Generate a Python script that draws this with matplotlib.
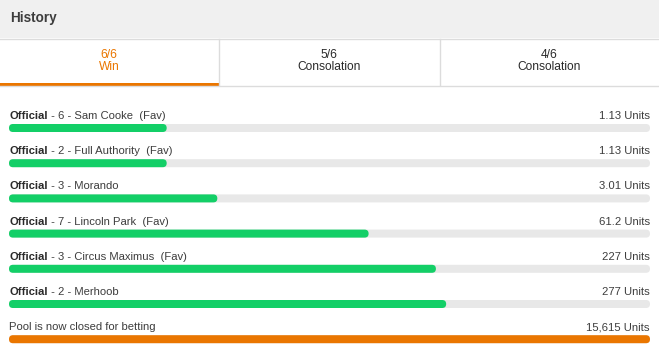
import matplotlib
matplotlib.use("Agg")
import matplotlib.pyplot as plt
from matplotlib.patches import FancyBboxPatch, Rectangle

plt.rcParams['font.family'] = ['Liberation Sans', 'DejaVu Sans']

# ---- data ----
title = "History"
tab_top = ["6/6", "5/6", "4/6"]
tab_bottom = ["Win", "Consolation", "Consolation"]
active_tab = 0

row_prefix = ["Official", "Official", "Official", "Official", "Official", "Official", ""]
row_labels = ["6 - Sam Cooke  (Fav)", "2 - Full Authority  (Fav)", "3 - Morando",
              "7 - Lincoln Park  (Fav)", "3 - Circus Maximus  (Fav)", "2 - Merhoob",
              "Pool is now closed for betting"]
row_values = ["1.13 Units", "1.13 Units", "3.01 Units", "61.2 Units",
              "227 Units", "277 Units", "15,615 Units"]
fill_fraction = [0.246, 0.246, 0.325, 0.561, 0.666, 0.682, 1.0]
fill_kind = ["win", "win", "win", "win", "win", "win", "pool"]

# ---- style ----
W, H = 659, 351
GREEN = "#13cf67"
ORANGE = "#ea7600"
TRACK = "#e8e8e8"
TEXT = "#3d3d3d"
DARK = "#2a2a2a"
BORDER = "#dcdcdc"
HEADER_BG = "#f0f0f0"

fig = plt.figure(figsize=(W / 100, H / 100), dpi=100)
ax = fig.add_axes([0, 0, 1, 1])
ax.set_xlim(0, W)
ax.set_ylim(H, 0)
ax.axis("off")

def px(v):
    return v * 0.72  # px -> pt at 100 dpi

ROW_FS = px(11.3)

# header
ax.add_patch(Rectangle((0, 0), W, 38, facecolor=HEADER_BG, edgecolor="none"))
ax.plot([0, W], [38.5, 38.5], color=BORDER, lw=1)
ax.text(10, 18, title, fontsize=px(13.5), fontweight="bold", color=TEXT,
        ha="left", va="center")

# tabs
tab_edges = [0, 218.5, 439.5, W]
for i in range(len(tab_top)):
    x0, x1 = tab_edges[i], tab_edges[i + 1]
    xc = (x0 + x1) / 2
    col = ORANGE if i == active_tab else DARK
    ax.text(xc, 54.5, tab_top[i], fontsize=px(12), color=col, ha="center", va="center")
    ax.text(xc, 67, tab_bottom[i], fontsize=px(12), color=col, ha="center", va="center")
    if i > 0:
        ax.plot([x0, x0], [39, 85], color=BORDER, lw=1)
ax.plot([0, W], [85.5, 85.5], color=BORDER, lw=1)
ax.add_patch(Rectangle((tab_edges[active_tab], 83), tab_edges[active_tab + 1] - tab_edges[active_tab], 3,
                       facecolor=ORANGE, edgecolor="none"))

# rows
bar_x0, bar_x1 = 9, 650
bar_h = 8
first_top, step = 124, 35.2
fig.canvas.draw()
for i in range(len(row_labels)):
    top = first_top + i * step
    base = top - 5
    if row_prefix[i]:
        t = ax.text(bar_x0, base, row_prefix[i], fontsize=ROW_FS, fontweight="bold",
                    color=DARK, ha="left", va="baseline")
        ax.annotate(" - " + row_labels[i], xy=(1, 0), xycoords=t, fontsize=ROW_FS,
                    color=TEXT, ha="left", va="bottom")
    else:
        ax.text(bar_x0, base, row_labels[i], fontsize=ROW_FS, color=TEXT,
                ha="left", va="baseline")
    ax.text(bar_x1, base, row_values[i], fontsize=ROW_FS, color=TEXT,
            ha="right", va="baseline")
    # track
    ax.add_patch(FancyBboxPatch((bar_x0, top), bar_x1 - bar_x0, bar_h,
                                boxstyle="round,pad=0,rounding_size=4",
                                facecolor=TRACK, edgecolor="none"))
    # fill
    fw = (bar_x1 - bar_x0) * fill_fraction[i]
    ax.add_patch(FancyBboxPatch((bar_x0, top), fw, bar_h,
                                boxstyle="round,pad=0,rounding_size=4",
                                facecolor=GREEN if fill_kind[i] == "win" else ORANGE,
                                edgecolor="none"))

fig.savefig("out.png", dpi=100)
